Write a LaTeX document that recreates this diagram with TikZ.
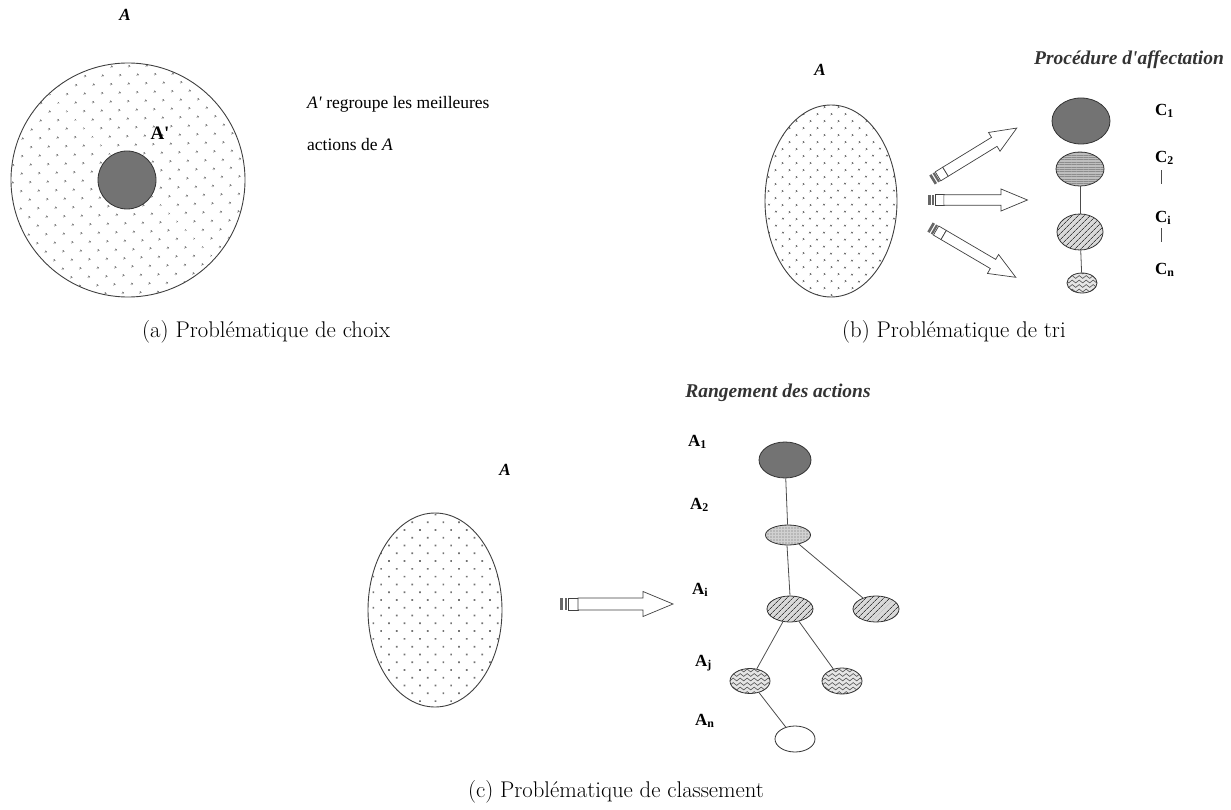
\documentclass[tikz,border=0pt]{standalone}
\usepackage{fontspec}
\newfontfamily\tms{Liberation Serif}
\usetikzlibrary{shapes.geometric,patterns,patterns.meta,decorations.pathmorphing}
\begin{document}
\begin{tikzpicture}[x=1pt,y=-1pt,
  lbl/.style={font=\tms\fontsize{17pt}{20pt}\selectfont\bfseries, inner sep=0pt},
  setA/.style={font=\tms\fontsize{17pt}{20pt}\selectfont\bfseries\itshape, inner sep=0pt},
  ttl/.style={font=\tms\fontsize{19.5pt}{20pt}\selectfont\bfseries\itshape, text=black!80, inner sep=0pt},
  body/.style={font=\tms\fontsize{17.5pt}{20pt}\selectfont, inner sep=0pt},
  captxt/.style={font=\fontsize{22.7pt}{26pt}\selectfont, inner sep=0pt},
  dotset/.style={ellipse, draw=black!75, line width=0.9pt, inner sep=0pt,
     pattern={Dots[angle=45,distance=#1,radius=1.2pt]}, pattern color=black!55},
  dotset/.default=13pt,
  el/.style={ellipse, draw=black!80, line width=0.8pt, inner sep=0pt},
  dark/.style={el, fill=black!55},
  grid/.style={el, preaction={fill=black!25}, pattern={Lines[angle=0,distance=2.4pt,line width=0.5pt]}, pattern color=black!45},
  dotgrid/.style={el, preaction={fill=black!18}, pattern={Dots[distance=3pt,radius=0.7pt]}, pattern color=black!60},
  hatch/.style={el, preaction={fill=black!15}, pattern={Lines[angle=45,distance=4pt,line width=0.7pt]}, pattern color=black!75},
  wavy/.style={el, fill=black!10, path picture={
     \foreach \yy in {-12,-7.5,-3,1.5,6,10.5}
       \draw[black!70, line width=0.6pt, decorate, decoration={snake, segment length=7pt, amplitude=1.4pt}]
         ([xshift=-26pt,yshift=\yy pt]path picture bounding box.center) -- ++(52pt,0pt);}},
  white/.style={el, fill=white},
  conn/.style={draw=black!70, line width=0.8pt},
  harrow/.pic={
    \fill[black!60] (0,-6) rectangle (3,6);
    \fill[black!60] (4.5,-6) rectangle (7,6);
    \draw[black!75, line width=0.7pt] (8,-6) rectangle (18,6);
    \draw[black!75, line width=0.7pt, fill=white] (18,-6) -- (83,-6) -- (83,-12.5) -- (113,0) -- (83,12.5) -- (83,6) -- (18,6) -- cycle;
  }
]
\useasboundingbox (0,0) rectangle (1231,810);

% ---------- (a) ----------
\node[setA] (aA) at (125,15) {A};
\node[dotset, minimum width=234pt, minimum height=234pt] (aset) at (128,180) {};
\node[dark, minimum width=58pt, minimum height=58pt] (abest) at (127,180) {};
\node[lbl, font=\tms\fontsize{19pt}{20pt}\selectfont\bfseries] (aAp) at (160,133) {A'};
\node[body, anchor=base west] (atext1) at (307,109) {\textit{A'} regroupe les meilleures};
\node[body, anchor=base west] (atext2) at (307,151) {actions de \textit{A}};
\node[captxt, anchor=base west] (capa) at (142,337) {(a) Problématique de choix};

% ---------- (b) ----------
\node[setA] (bA) at (820,70) {A};
\node[dotset=10.5pt, minimum width=132pt, minimum height=192pt] (bset) at (831,201) {};
\node[ttl] (bttl) at (1129,60) {Procédure d'affectation};
\node[dark, minimum width=58pt, minimum height=46pt] (c1) at (1081,121) {};
\node[grid, minimum width=48pt, minimum height=34pt] (c2) at (1080,169) {};
\node[hatch, minimum width=46pt, minimum height=36pt] (ci) at (1080,232) {};
\node[wavy, minimum width=30pt, minimum height=20pt] (cn) at (1082,283) {};
\draw[conn] (c2) -- (ci);
\draw[conn] (ci) -- (cn);
\node[lbl, anchor=west] (lc1) at (1155,111) {C\textsubscript{1}};
\node[lbl, anchor=west] (lc2) at (1155,158) {C\textsubscript{2}};
\node[lbl, anchor=west] (lci) at (1155,218) {C\textsubscript{i}};
\node[lbl, anchor=west] (lcn) at (1155,270) {C\textsubscript{n}};
\draw[conn] ([yshift=-5pt]lc2.south west) ++(6pt,0) coordinate (v1a) -- ++(0,-14pt);
\draw[conn] ([yshift=-3pt]lci.south west) ++(6pt,0) coordinate (v2a) -- ++(0,-14pt);
\pic[rotate=31.5, scale=0.88] at (932,180) {harrow};
\pic[scale=0.88] at (928,200) {harrow};
\pic[rotate=-30.4, scale=0.88] at (930,227) {harrow};
\node[captxt, anchor=base west] (capb) at (842,337) {(b) Problématique de tri};

% ---------- (c) ----------
\node[ttl] (cttl) at (778,393) {Rangement des actions};
\node[setA] (cA) at (505,470) {A};
\node[dotset=11pt, minimum width=134pt, minimum height=194pt] (cset) at (435,610) {};
\pic at (560,604) {harrow};
\node[lbl, anchor=west] (la1) at (688,442) {A\textsubscript{1}};
\node[lbl, anchor=west] (la2) at (690,505) {A\textsubscript{2}};
\node[lbl, anchor=west] (lai) at (692,590) {A\textsubscript{i}};
\node[lbl, anchor=west] (laj) at (695,663) {A\textsubscript{j}};
\node[lbl, anchor=west] (lan) at (695,721) {A\textsubscript{n}};
\node[dark, minimum width=52pt, minimum height=36pt] (t1) at (785,460) {};
\node[dotgrid, minimum width=45pt, minimum height=20pt] (t2) at (788,535) {};
\node[hatch, minimum width=46pt, minimum height=26pt] (t3) at (790,609) {};
\node[hatch, minimum width=46pt, minimum height=26pt] (t4) at (876,609) {};
\node[wavy, minimum width=40pt, minimum height=25pt] (t5) at (750,681) {};
\node[wavy, minimum width=40pt, minimum height=26pt] (t6) at (842,681) {};
\node[white, minimum width=40pt, minimum height=26pt] (t7) at (795,739) {};
\draw[conn] (t1) -- (t2);
\draw[conn] (t2.south) ++(-1pt,0) -- (t3.north);
\draw[conn] (t2) -- (t4);
\draw[conn] (t3) -- (t5);
\draw[conn] (t3) -- (t6);
\draw[conn] (t5) -- (t7);
\node[captxt] (capc) at (616,792) {(c) Problématique de classement};
\end{tikzpicture}
\end{document}
